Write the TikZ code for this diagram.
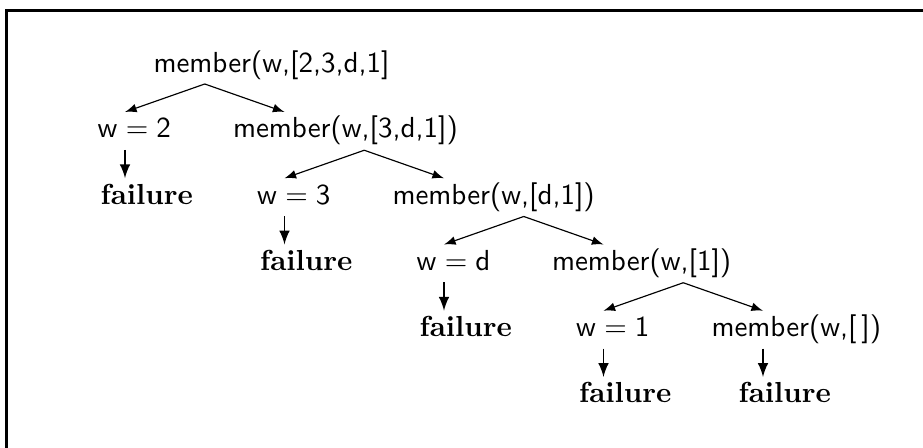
\documentclass[tikz,border=0pt]{standalone}
\usetikzlibrary{calc}

\begin{document}
\begin{tikzpicture}[x=0.345pt,y=-0.345pt,
goal/.style={font=\sffamily,anchor=base west,inner sep=0pt},
fail/.style={font=\bfseries,anchor=base west,inner sep=0pt},
branch/.style={-latex,line width=0.4pt},
down/.style={-latex,line width=0.65pt}]
 \useasboundingbox (0,0) rectangle (923,448);
 \draw[line width=1pt] (6.2,448) |- (923,10.5);

 \node[goal] (m0) at (153,73) {member(w,[2,3,d,1]};

 \foreach \n/\v/\rest in {1/2/{[3,d,1])},2/3/{[d,1])},3/d/{[1])},4/1/{[\,])}} {
 \pgfmathsetmacro\cx{125+159.5*(\n-1)}
 \pgfmathsetmacro\by{138+66.25*(\n-1)}

 \node[goal] (w\n) at (\cx-28,\by) {$\mathsf{w}=\mathsf{\v}$};
 \node[goal] (m\n) at (\cx+159.5-52,\by) {member(w,\rest};
 \node[fail] (f\n) at (\cx-25,\by+66.25) {failure};

 % the two branches out of the goal above
 \coordinate (a\n) at (\cx+79.75,\by-54);
 \draw[branch] (a\n) -- ($(w\n.base west)+(28,-26)$);
 \draw[branch] (a\n) -- ($(m\n.base west)+(52,-26)$);

 \draw[down] ($(w\n.base west)+(28,12)$) -- ($(f\n.base west)+(25,-26)$);
 }

 \node[fail] (f5) at (738,403) {failure};
 \draw[down] ($(m4.base west)+(52,12)$) -- ($(f5.base west)+(25,-26)$);

\end{tikzpicture}
\end{document}
